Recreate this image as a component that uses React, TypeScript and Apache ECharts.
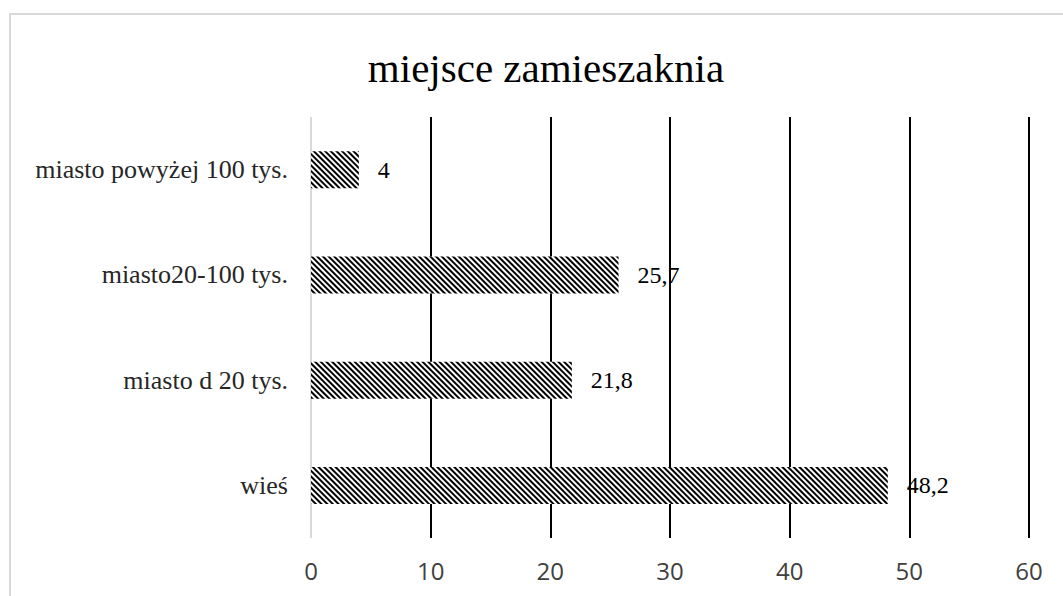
import React, { useEffect, useRef } from "react";
import * as echarts from "echarts";

const title = "miejsce zamieszaknia";
const categories = ["wieś", "miasto d 20 tys.", "miasto20-100 tys.", "miasto powyżej 100 tys."];
const values = [48.2, 21.8, 25.7, 4];
const valueLabels = ["48,2", "21,8", "25,7", "4"];
const axisMin = 0;
const axisMax = 60;
const axisInterval = 10;

const SERIF = "'Liberation Serif', 'Times New Roman', serif";

export default function App() {
  const ref = useRef<HTMLDivElement>(null);
  useEffect(() => {
    if (!ref.current) return;
    const chart = echarts.init(ref.current, undefined, { renderer: "svg" });
    chart.setOption({
      animation: false,
      backgroundColor: "#ffffff",
      aria: { enabled: true, decal: { show: true } },
      title: {
        text: title,
        left: 541,
        textAlign: "center",
        top: 42,
        textStyle: {
          fontFamily: SERIF,
          fontSize: 41,
          fontWeight: "normal",
          color: "#000000",
        },
      },
      graphic: [
        {
          type: "rect",
          shape: { x: 10, y: 14, width: 1200, height: 800 },
          style: { fill: "none", stroke: "#d9d9d9", lineWidth: 2 },
          silent: true,
          z: -1,
        },
      ],
      grid: { left: 311, right: 34, top: 117, bottom: 58, containLabel: false },
      xAxis: {
        type: "value",
        min: axisMin,
        max: axisMax,
        interval: axisInterval,
        axisLine: { show: false },
        axisTick: { show: false },
        axisLabel: {
          fontFamily: "Open Sans",
          fontSize: 24,
          color: "#404040",
          margin: 20,
        },
        splitLine: {
          show: true,
          lineStyle: {
            color: ["#d9d9d9", "#000000", "#000000", "#000000", "#000000", "#000000", "#000000"],
            width: 2,
          },
        },
      },
      yAxis: {
        type: "category",
        data: categories,
        axisLine: { show: false },
        axisTick: { show: false },
        axisLabel: {
          fontFamily: SERIF,
          fontSize: 26,
          color: "#262626",
          margin: 23,
        },
        splitLine: { show: false },
      },
      series: [
        {
          type: "bar",
          data: values,
          barWidth: 37,
          itemStyle: {
            color: "#ffffff",
            decal: {
              symbol: "rect",
              symbolSize: 1,
              dashArrayX: [1, 0],
              dashArrayY: [1.6, 1.4],
              rotation: Math.PI / 4,
              color: "#000000",
            },
          },
          label: {
            show: true,
            position: "right",
            distance: 19,
            fontFamily: SERIF,
            fontSize: 24,
            color: "#000000",
            formatter: (p: any) => valueLabels[p.dataIndex],
          },
        },
      ],
    });
    return () => chart.dispose();
  }, []);
  return (
    <div
      ref={ref}
      style={{ position: "fixed", left: 0, top: 0, width: 1063, height: 596 }}
    />
  );
}
